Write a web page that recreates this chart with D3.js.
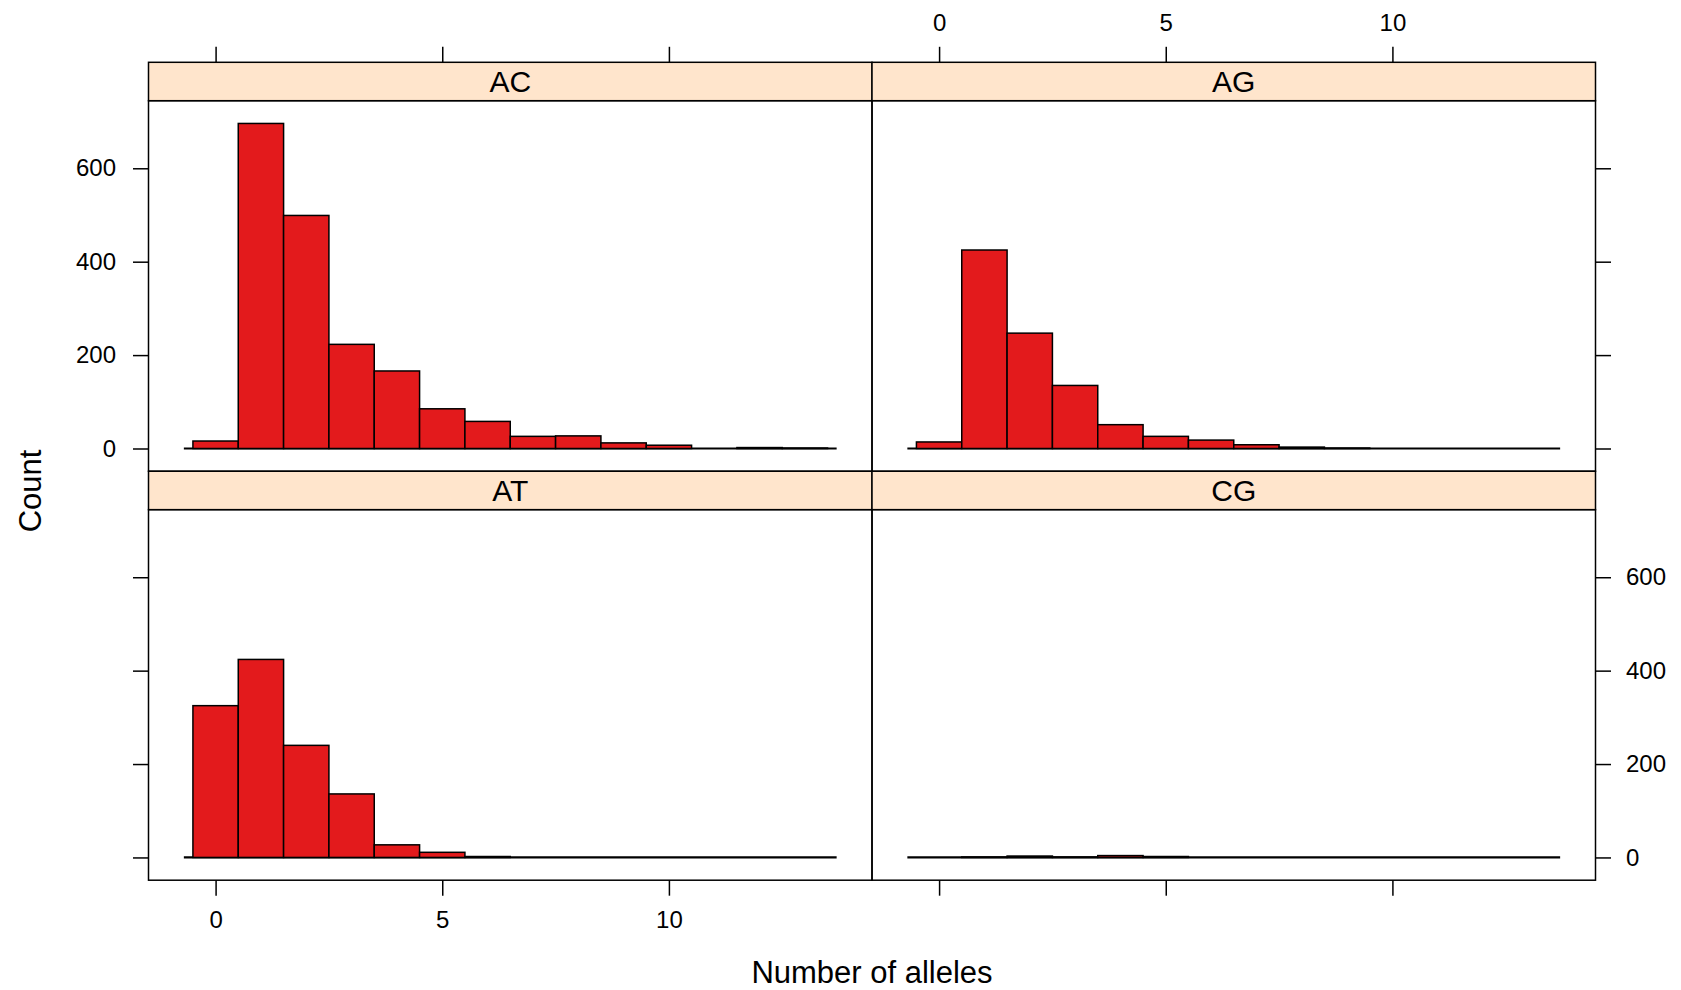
<!DOCTYPE html>
<html>
<head>
<meta charset="utf-8">
<script src="https://cdn.jsdelivr.net/npm/d3@7"></script>
<style>
  body { margin: 0; background: #fff; }
  svg { display: block; font-family: "Liberation Sans", Arial, Helvetica, sans-serif; }
</style>
</head>
<body>
<svg id="chart" width="1681" height="990"></svg>
<script>
// unit-width bins centred on each allele count
const bins = [0, 1, 2, 3, 4, 5, 6, 7, 8, 9, 10, 11, 12, 13];
const countsAC = [16, 696, 499, 223, 166, 85, 58, 26, 27, 12, 7, 0, 2, 1];
const countsAG = [14, 425, 247, 135, 51, 26, 18, 8, 3, 1, 0, 0, 0, 0];
const countsAT = [325, 424, 240, 136, 27, 11, 2, 0, 0, 0, 0, 0, 0, 0];
const countsCG = [0, 1, 3, 1, 4, 2, 0, 0, 0, 0, 0, 0, 0, 0];
const panelNames = ["AC", "AG", "AT", "CG"];
const xTicks = [0, 5, 10];
const yTicks = [0, 200, 400, 600];
const baselineRange = [-0.7, 13.7];
const xLabel = "Number of alleles";
const yLabel = "Count";

const panelCounts = [countsAC, countsAG, countsAT, countsCG];

const svg = d3.select("#chart");
svg.append("rect").attr("width", 1681).attr("height", 990).attr("fill", "#fff");

// layout
const boxLeft = 148.5, boxRight = 1595.5, boxTop = 62.3, boxBottom = 880.2;
const colW = (boxRight - boxLeft) / 2;
const rowH = (boxBottom - boxTop) / 2;
const stripH = 38.4;
const tickLen = 15.5;

// lattice style: data range padded by 7% on each side
const xLo = bins[0] - 0.5, xHi = bins[bins.length - 1] + 0.5;
const xPad = 0.07 * (xHi - xLo);
const xDomain = [xLo - xPad, xHi + xPad];
const yMax = d3.max(panelCounts.flat());
const yDomain = [-0.07 * yMax, yMax * 1.07];

function styleAxis(g) {
    g.attr("font-size", 24).attr("font-family", null);
    g.select(".domain").remove();
    g.selectAll(".tick line").attr("stroke", "#000").attr("stroke-width", 1.5);
    g.selectAll(".tick text").attr("fill", "#000");
}

panelNames.forEach((name, i) => {
    const col = i % 2;
    const row = i < 2 ? 0 : 1;
    const x0 = boxLeft + col * colW;
    const y0 = boxTop + row * rowH;

    const x = d3.scaleLinear().domain(xDomain).range([x0, x0 + colW]);
    const y = d3.scaleLinear().domain(yDomain).range([y0 + rowH, y0 + stripH]);

    const g = svg.append("g");
    const data = bins.map((b, j) => ({ bin: b, count: panelCounts[i][j] }));

    // baseline
    g.append("line")
        .attr("x1", x(baselineRange[0]))
        .attr("x2", x(baselineRange[1]))
        .attr("y1", y(0))
        .attr("y2", y(0))
        .attr("stroke", "#000")
        .attr("stroke-width", 2.2);

    // bars
    g.selectAll("rect.bar")
        .data(data)
        .join("rect")
        .attr("class", "bar")
        .attr("x", d => x(d.bin - 0.5))
        .attr("width", d => x(d.bin + 0.5) - x(d.bin - 0.5))
        .attr("y", d => y(d.count))
        .attr("height", d => y(0) - y(d.count))
        .attr("fill", "#e31a1c")
        .attr("stroke", "#000")
        .attr("stroke-width", 1.5);

    // panel border
    g.append("rect")
        .attr("x", x0)
        .attr("y", y0 + stripH)
        .attr("width", colW)
        .attr("height", rowH - stripH)
        .attr("fill", "none")
        .attr("stroke", "#000")
        .attr("stroke-width", 1.5);

    // strip
    g.append("rect")
        .attr("x", x0)
        .attr("y", y0)
        .attr("width", colW)
        .attr("height", stripH)
        .attr("fill", "#ffe5cc")
        .attr("stroke", "#000")
        .attr("stroke-width", 1.5);
    g.append("text")
        .attr("x", x0 + colW / 2)
        .attr("y", y0 + stripH / 2)
        .attr("dy", "0.36em")
        .attr("text-anchor", "middle")
        .attr("font-size", 30)
        .text(name);

    // x axes alternate: top row on top, bottom row below
    if (row === 0) {
        const ax = d3.axisTop(x).tickValues(xTicks).tickSize(tickLen).tickPadding(16);
        if (col === 0) ax.tickFormat("");
        svg.append("g").attr("transform", `translate(0,${boxTop})`).call(ax).call(styleAxis);
    } else {
        const ax = d3.axisBottom(x).tickValues(xTicks).tickSize(tickLen).tickPadding(15);
        if (col === 1) ax.tickFormat("");
        svg.append("g").attr("transform", `translate(0,${boxBottom})`).call(ax).call(styleAxis);
    }

    // y axes alternate: left column labelled on top row, right column on bottom row
    if (col === 0) {
        const ay = d3.axisLeft(y).tickValues(yTicks).tickSize(tickLen).tickPadding(17);
        if (row === 1) ay.tickFormat("");
        svg.append("g").attr("transform", `translate(${boxLeft},0)`).call(ay).call(styleAxis);
    } else {
        const ay = d3.axisRight(y).tickValues(yTicks).tickSize(tickLen).tickPadding(15);
        if (row === 0) ay.tickFormat("");
        svg.append("g").attr("transform", `translate(${boxRight},0)`).call(ay).call(styleAxis);
    }
});

// axis titles
svg.append("text")
    .attr("x", (boxLeft + boxRight) / 2)
    .attr("y", 983)
    .attr("text-anchor", "middle")
    .attr("font-size", 31)
    .text(xLabel);

svg.append("text")
    .attr("transform", "translate(41,491) rotate(-90)")
    .attr("text-anchor", "middle")
    .attr("font-size", 31)
    .text(yLabel);
</script>
</body>
</html>
